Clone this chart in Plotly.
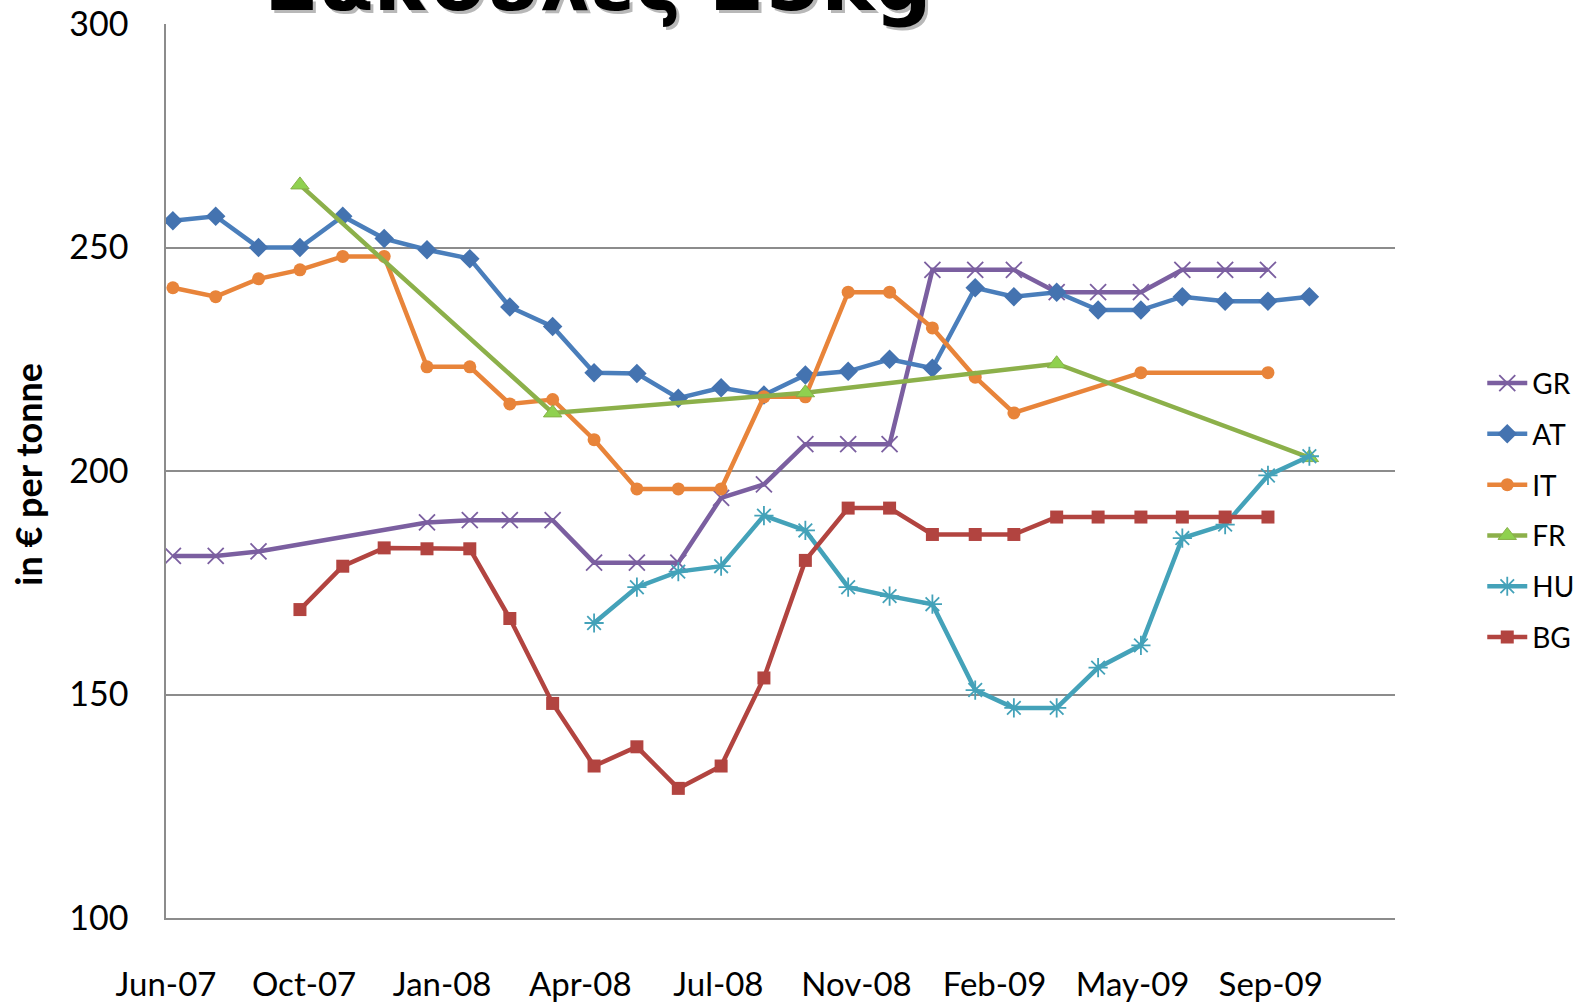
import plotly.graph_objects as go

months = ["2007-07-01", "2007-08-01", "2007-09-01", "2007-10-01", "2007-11-01", "2007-12-01",
          "2008-01-01", "2008-02-01", "2008-03-01", "2008-04-01", "2008-05-01", "2008-06-01",
          "2008-07-01", "2008-08-01", "2008-09-01", "2008-10-01", "2008-11-01", "2008-12-01",
          "2009-01-01", "2009-02-01", "2009-03-01", "2009-04-01", "2009-05-01", "2009-06-01",
          "2009-07-01", "2009-08-01", "2009-09-01", "2009-10-01"]

N = None
GR = [181, 181, 182, N, N, N, 188.5, 189, 189, 189, 179.5, 179.5, 179.5, 194, 197, 206, 206, 206,
      245, 245, 245, 240, 240, 240, 245, 245, 245, N]
AT = [256, 257, 250, 250, 257, 252, 249.5, 247.5, 236.7, 232.3, 222, 221.8, 216.3, 218.6, 217, 221.5,
      222.3, 225, 223, 241, 239, 240, 236, 236, 239, 238, 238, 239]
IT = [241, 239, 243, 245, 248, 248, 223.3, 223.3, 215, 216, 207, 196, 196, 196, 216.6, 216.6, 240, 240,
      232, 221, 213, N, N, 222, N, N, 222, N]
FR = [N, N, N, 264, N, N, N, N, N, 213, N, N, N, N, N, 217.5, N, N, N, N, N, 224, N, N, N, N, N, 203]
HU = [N, N, N, N, N, N, N, N, N, N, 166, 174, 177.5, 178.7, 190, 186.7, 174, 172, 170.2, 151, 147, 147,
      156, 161, 185, 188, 199, 203.3]
BG = [N, N, N, 169, 178.7, 182.8, 182.6, 182.6, 167, 148, 134, 138.3, 129, 134, 153.7, 180, 191.7, 191.7,
      185.8, 185.8, 185.8, 189.7, 189.7, 189.7, 189.7, 189.7, 189.7, N]

series = [
    ("GR", GR, "#7B5FA0", dict(symbol="x-thin-open", size=16, line=dict(width=1.8, color="#7B5FA0"))),
    ("AT", AT, "#4A7EBB", dict(symbol="diamond", size=15, color="#4473B0")),
    ("IT", IT, "#E8843A", dict(symbol="circle", size=13, color="#E8843A")),
    ("FR", FR, "#8CB04A", dict(symbol="triangle-up", size=16, color="#8FD14F",
                                line=dict(width=1, color="#86B048"))),
    ("HU", HU, "#44A2B9", dict(symbol="asterisk-open", size=16, line=dict(width=1.8, color="#44A2B9"))),
    ("BG", BG, "#B24440", dict(symbol="square", size=13, color="#B24440")),
]

fig = go.Figure()
for i, (name, vals, col, mk) in enumerate(series):
    fig.add_trace(go.Scatter(
        x=months, y=vals, name=name, mode="lines+markers", connectgaps=True,
        line=dict(color=col, width=4.5), marker=mk, legendgroup=name,
    ))

grid_col = "#8C8C8C"
fig.update_layout(
    width=1579, height=1006,
    margin=dict(l=166, r=184, t=24, b=88, autoexpand=False),
    paper_bgcolor="white", plot_bgcolor="white",
    font=dict(family="Lato", color="#000000"),
    showlegend=True,
    legend=dict(x=1.071, xanchor="left", y=0.456, yanchor="middle",
                font=dict(size=28, family="Lato"), tracegroupgap=11.4,
                itemwidth=40, bgcolor="rgba(0,0,0,0)"),
    xaxis=dict(type="date", range=["2007-06-26", "2009-12-02"], automargin=False,
               tick0="2007-06-26", dtick=100 * 86400000, tickformat="%b-%y",
               showgrid=False, showline=True, linecolor=grid_col, linewidth=1.5,
               ticks="", ticklabelstandoff=37, tickfont=dict(size=33, family="Lato"),
               zeroline=False),
    yaxis=dict(range=[100, 300], tick0=100, dtick=50, showgrid=True, gridcolor=grid_col,
               gridwidth=1.5, showline=True, linecolor=grid_col, linewidth=1.5, automargin=False,
               ticks="", ticklabelstandoff=29, tickfont=dict(size=34, family="Lato"),
               zeroline=False),
)

fig.add_annotation(xref="paper", yref="paper", x=-0.113, y=0.496, xanchor="center", yanchor="middle",
                   text="<b>in € per tonne</b>", textangle=-90, showarrow=False,
                   font=dict(size=36, family="Lato", color="#000000"))

title_txt = "<b>Σακούλες 25kg</b>"
fig.add_annotation(xref="paper", yref="paper", x=0.3515, y=1.0, xanchor="center", yanchor="bottom",
                   text=title_txt, showarrow=False, xshift=3, yshift=-10,
                   font=dict(size=80, family="DejaVu Sans", color="#B8B8B8"))
fig.add_annotation(xref="paper", yref="paper", x=0.3515, y=1.0, xanchor="center", yanchor="bottom",
                   text=title_txt, showarrow=False, yshift=-7,
                   font=dict(size=80, family="DejaVu Sans", color="#000000"))

fig.write_html("out.html", config={"displayModeBar": False},
               post_script="document.body.style.margin='0';document.body.style.overflow='hidden';")
